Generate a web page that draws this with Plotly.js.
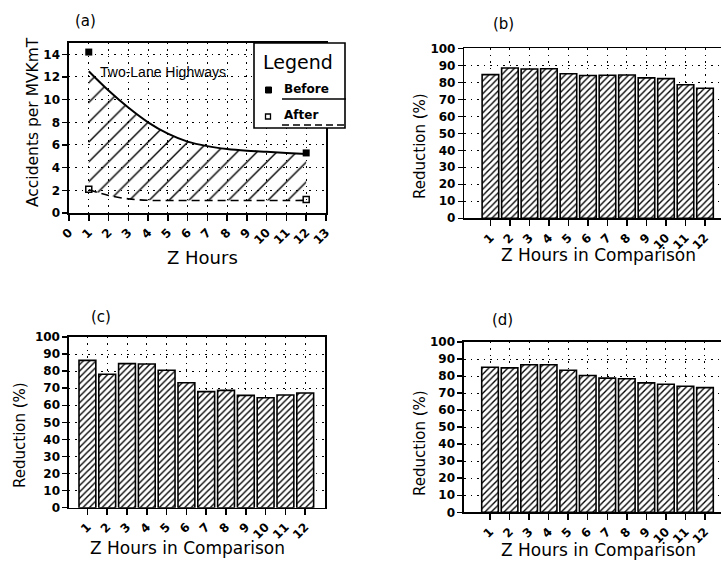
<!DOCTYPE html>
<html>
<head>
<meta charset="utf-8">
<script src="https://cdn.plot.ly/plotly-3.0.1.min.js"></script>
<style>html,body{margin:0;padding:0;background:#fff;}#chart{width:721px;height:562px;}</style>
</head>
<body>
<div id="chart"></div>
<script>
// ---- Panel (a): accidents per MVKmT ----
var aHours = [1, 2, 3, 4, 5, 6, 7, 8, 9, 10, 11, 12];
var aBeforeCurve = [12.5, 10.8, 9.3, 8.0, 7.0, 6.3, 5.9, 5.65, 5.5, 5.4, 5.3, 5.2];
var aAfterCurve = [2.05, 1.55, 1.25, 1.12, 1.1, 1.1, 1.1, 1.1, 1.1, 1.1, 1.1, 1.12];
var aMarkHours = [1, 12];
var aBeforePts = [14.2, 5.3];
var aAfterPts = [2.1, 1.2];
var aXTicks = [0, 1, 2, 3, 4, 5, 6, 7, 8, 9, 10, 11, 12, 13];
var aYTicks = [0, 2, 4, 6, 8, 10, 12, 14];

// ---- Panels (b), (c), (d): reduction (%) ----
var zHours = [1, 2, 3, 4, 5, 6, 7, 8, 9, 10, 11, 12];
var bReduction = [84.5, 88.4, 87.8, 88.0, 85.0, 84.0, 84.2, 84.3, 82.6, 82.2, 78.6, 76.5];
var cReduction = [86.3, 78.2, 84.4, 84.2, 80.5, 73.2, 68.0, 68.7, 65.8, 64.4, 66.0, 67.2];
var dReduction = [85.2, 84.8, 86.6, 86.6, 83.4, 80.3, 78.8, 78.4, 76.0, 75.2, 74.0, 73.2];
var redTicks = [0, 10, 20, 30, 40, 50, 60, 70, 80, 90, 100];

var tickFont = {family: 'DejaVu Sans, Verdana, sans-serif', size: 12, color: '#000', weight: 'bold'};

function barTrace(vals, xa, ya) {
  return {
    type: 'bar', x: zHours, y: vals, xaxis: xa, yaxis: ya, width: 0.85,
    marker: {color: '#fff', line: {color: '#000', width: 1.6},
             pattern: {shape: '/', size: 4.5, solidity: 0.3, fgcolor: '#000', bgcolor: '#fff'}},
    showlegend: false, hoverinfo: 'skip'
  };
}

var traces = [
  {type: 'scatter', mode: 'lines', x: aHours, y: aAfterCurve, xaxis: 'x', yaxis: 'y',
   line: {color: '#000', width: 1.6, dash: '8px,5px', shape: 'spline'}, showlegend: false},
  {type: 'scatter', mode: 'lines', x: aHours, y: aBeforeCurve, xaxis: 'x', yaxis: 'y',
   fill: 'tonexty', fillcolor: 'rgba(0,0,0,0)',
   fillpattern: {shape: '/', size: 14, solidity: 0.1, fgcolor: '#000', bgcolor: 'rgba(0,0,0,0)'},
   line: {color: '#000', width: 2, shape: 'spline'}, showlegend: false},
  {type: 'scatter', mode: 'markers', x: aMarkHours, y: aBeforePts, xaxis: 'x', yaxis: 'y',
   marker: {symbol: 'square', size: 7, color: '#000'}, showlegend: false},
  {type: 'scatter', mode: 'markers', x: aMarkHours, y: aAfterPts, xaxis: 'x', yaxis: 'y',
   marker: {symbol: 'square-open', size: 6, color: '#000', line: {width: 1.5}}, showlegend: false},
  barTrace(bReduction, 'x2', 'y2'),
  barTrace(cReduction, 'x3', 'y3'),
  barTrace(dReduction, 'x4', 'y4')
];

function xAx(domain, range, tickvals, anchor) {
  return {domain: domain, range: range, tickvals: tickvals, ticktext: tickvals.map(String),
    tickangle: -45, ticks: 'outside', ticklen: 6, tickwidth: 1.5, tickcolor: '#000',
    showline: true, linecolor: '#000', linewidth: 1.6, mirror: true, zeroline: false,
    showgrid: true, gridcolor: '#000', gridwidth: 1, griddash: '1.5px,5px',
    tickfont: tickFont, anchor: anchor, fixedrange: true};
}
function yAx(domain, range, tickvals, anchor) {
  return {domain: domain, range: range, tickvals: tickvals, ticktext: tickvals.map(String),
    ticks: 'outside', ticklen: 5, tickwidth: 1.5, tickcolor: '#000',
    showline: true, linecolor: '#000', linewidth: 1.6, mirror: true, zeroline: false,
    showgrid: true, gridcolor: '#000', gridwidth: 1, griddash: '1.5px,5px',
    tickfont: tickFont, anchor: anchor, fixedrange: true};
}

function ann(text, px, py, size, extra) {
  var a = {text: text, xref: 'paper', yref: 'paper', x: px / 721, y: 1 - py / 562,
    xanchor: 'center', yanchor: 'middle', showarrow: false,
    font: {family: 'DejaVu Sans, Verdana, sans-serif', size: size, color: '#000'}};
  if (extra) { for (var k in extra) { a[k] = extra[k]; } }
  return a;
}

var layout = {
  width: 721, height: 562, margin: {l: 0, r: 0, t: 0, b: 0},
  paper_bgcolor: '#fff', plot_bgcolor: '#fff', showlegend: false,
  bargap: 0,
  xaxis: xAx([0.0957, 0.4521], [0, 13], aXTicks, 'y'),
  yaxis: yAx([0.621, 0.9235], [0, 15], aYTicks, 'x'),
  xaxis2: xAx([0.6442, 1], [-0.33, 12.82], zHours, 'y2'),
  yaxis2: yAx([0.6116, 0.914], [0, 100], redTicks, 'x2'),
  xaxis3: xAx([0.0957, 0.4508], [0.07, 13], zHours, 'y3'),
  yaxis3: yAx([0.0966, 0.4004], [0, 100], redTicks, 'x3'),
  xaxis4: xAx([0.6436, 1], [-0.33, 12.82], zHours, 'y4'),
  yaxis4: yAx([0.0884, 0.3915], [0, 100], redTicks, 'x4'),
  shapes: [
    // legend box of panel (a)
    {type: 'rect', xref: 'paper', yref: 'paper', x0: 254/721, x1: 345/721, y0: 1-128/562, y1: 1-43/562,
     line: {color: '#000', width: 1.6}, fillcolor: '#fff', layer: 'above'},
    {type: 'rect', xref: 'paper', yref: 'paper', x0: 265.5/721, x1: 271.5/721, y0: 1-93/562, y1: 1-87/562,
     line: {color: '#000', width: 1}, fillcolor: '#000', layer: 'above'},
    {type: 'line', xref: 'paper', yref: 'paper', x0: 282/721, x1: 346/721, y0: 1-99/562, y1: 1-99/562,
     line: {color: '#000', width: 1.6}, layer: 'above'},
    {type: 'rect', xref: 'paper', yref: 'paper', x0: 265.5/721, x1: 270.5/721, y0: 1-119/562, y1: 1-114/562,
     line: {color: '#000', width: 1.3}, fillcolor: '#fff', layer: 'above'},
    {type: 'line', xref: 'paper', yref: 'paper', x0: 282/721, x1: 344/721, y0: 1-125/562, y1: 1-125/562,
     line: {color: '#000', width: 1.6, dash: '7px,4px'}, layer: 'above'}
  ],
  annotations: [
    ann('(a)', 85, 21, 15),
    ann('(b)', 503, 24, 15),
    ann('(c)', 101, 317, 15),
    ann('(d)', 502, 320, 15),
    {text: 'Two-Lane Highways', xref: 'x', yref: 'y', x: 4.75, y: 12.45, xanchor: 'center', yanchor: 'middle', showarrow: false,
     font: {family: 'Liberation Sans Narrow, Arial Narrow, sans-serif', size: 14, color: '#000'}},
    ann('Legend', 298, 62, 19),
    ann('Before', 282, 89, 12, {xanchor: 'left', font: {family: 'DejaVu Sans', size: 12, color: '#000', weight: 'bold'}}),
    ann('After', 282, 115, 12, {xanchor: 'left', font: {family: 'DejaVu Sans', size: 12, color: '#000', weight: 'bold'}}),
    // axis titles
    ann('Accidents per MVKmT', 33, 122, 15.5, {textangle: -90}),
    ann('Z Hours', 202, 257, 18),
    ann('Reduction (%)', 420, 146, 15, {textangle: -90}),
    ann('Z Hours in Comparison', 598, 255, 17),
    ann('Reduction (%)', 20, 435, 15, {textangle: -90}),
    ann('Z Hours in Comparison', 187, 548, 17),
    ann('Reduction (%)', 420, 443, 15, {textangle: -90}),
    ann('Z Hours in Comparison', 598, 550, 17)
  ]
};

Plotly.newPlot('chart', traces, layout, {staticPlot: true, displayModeBar: false});
</script>
</body>
</html>
